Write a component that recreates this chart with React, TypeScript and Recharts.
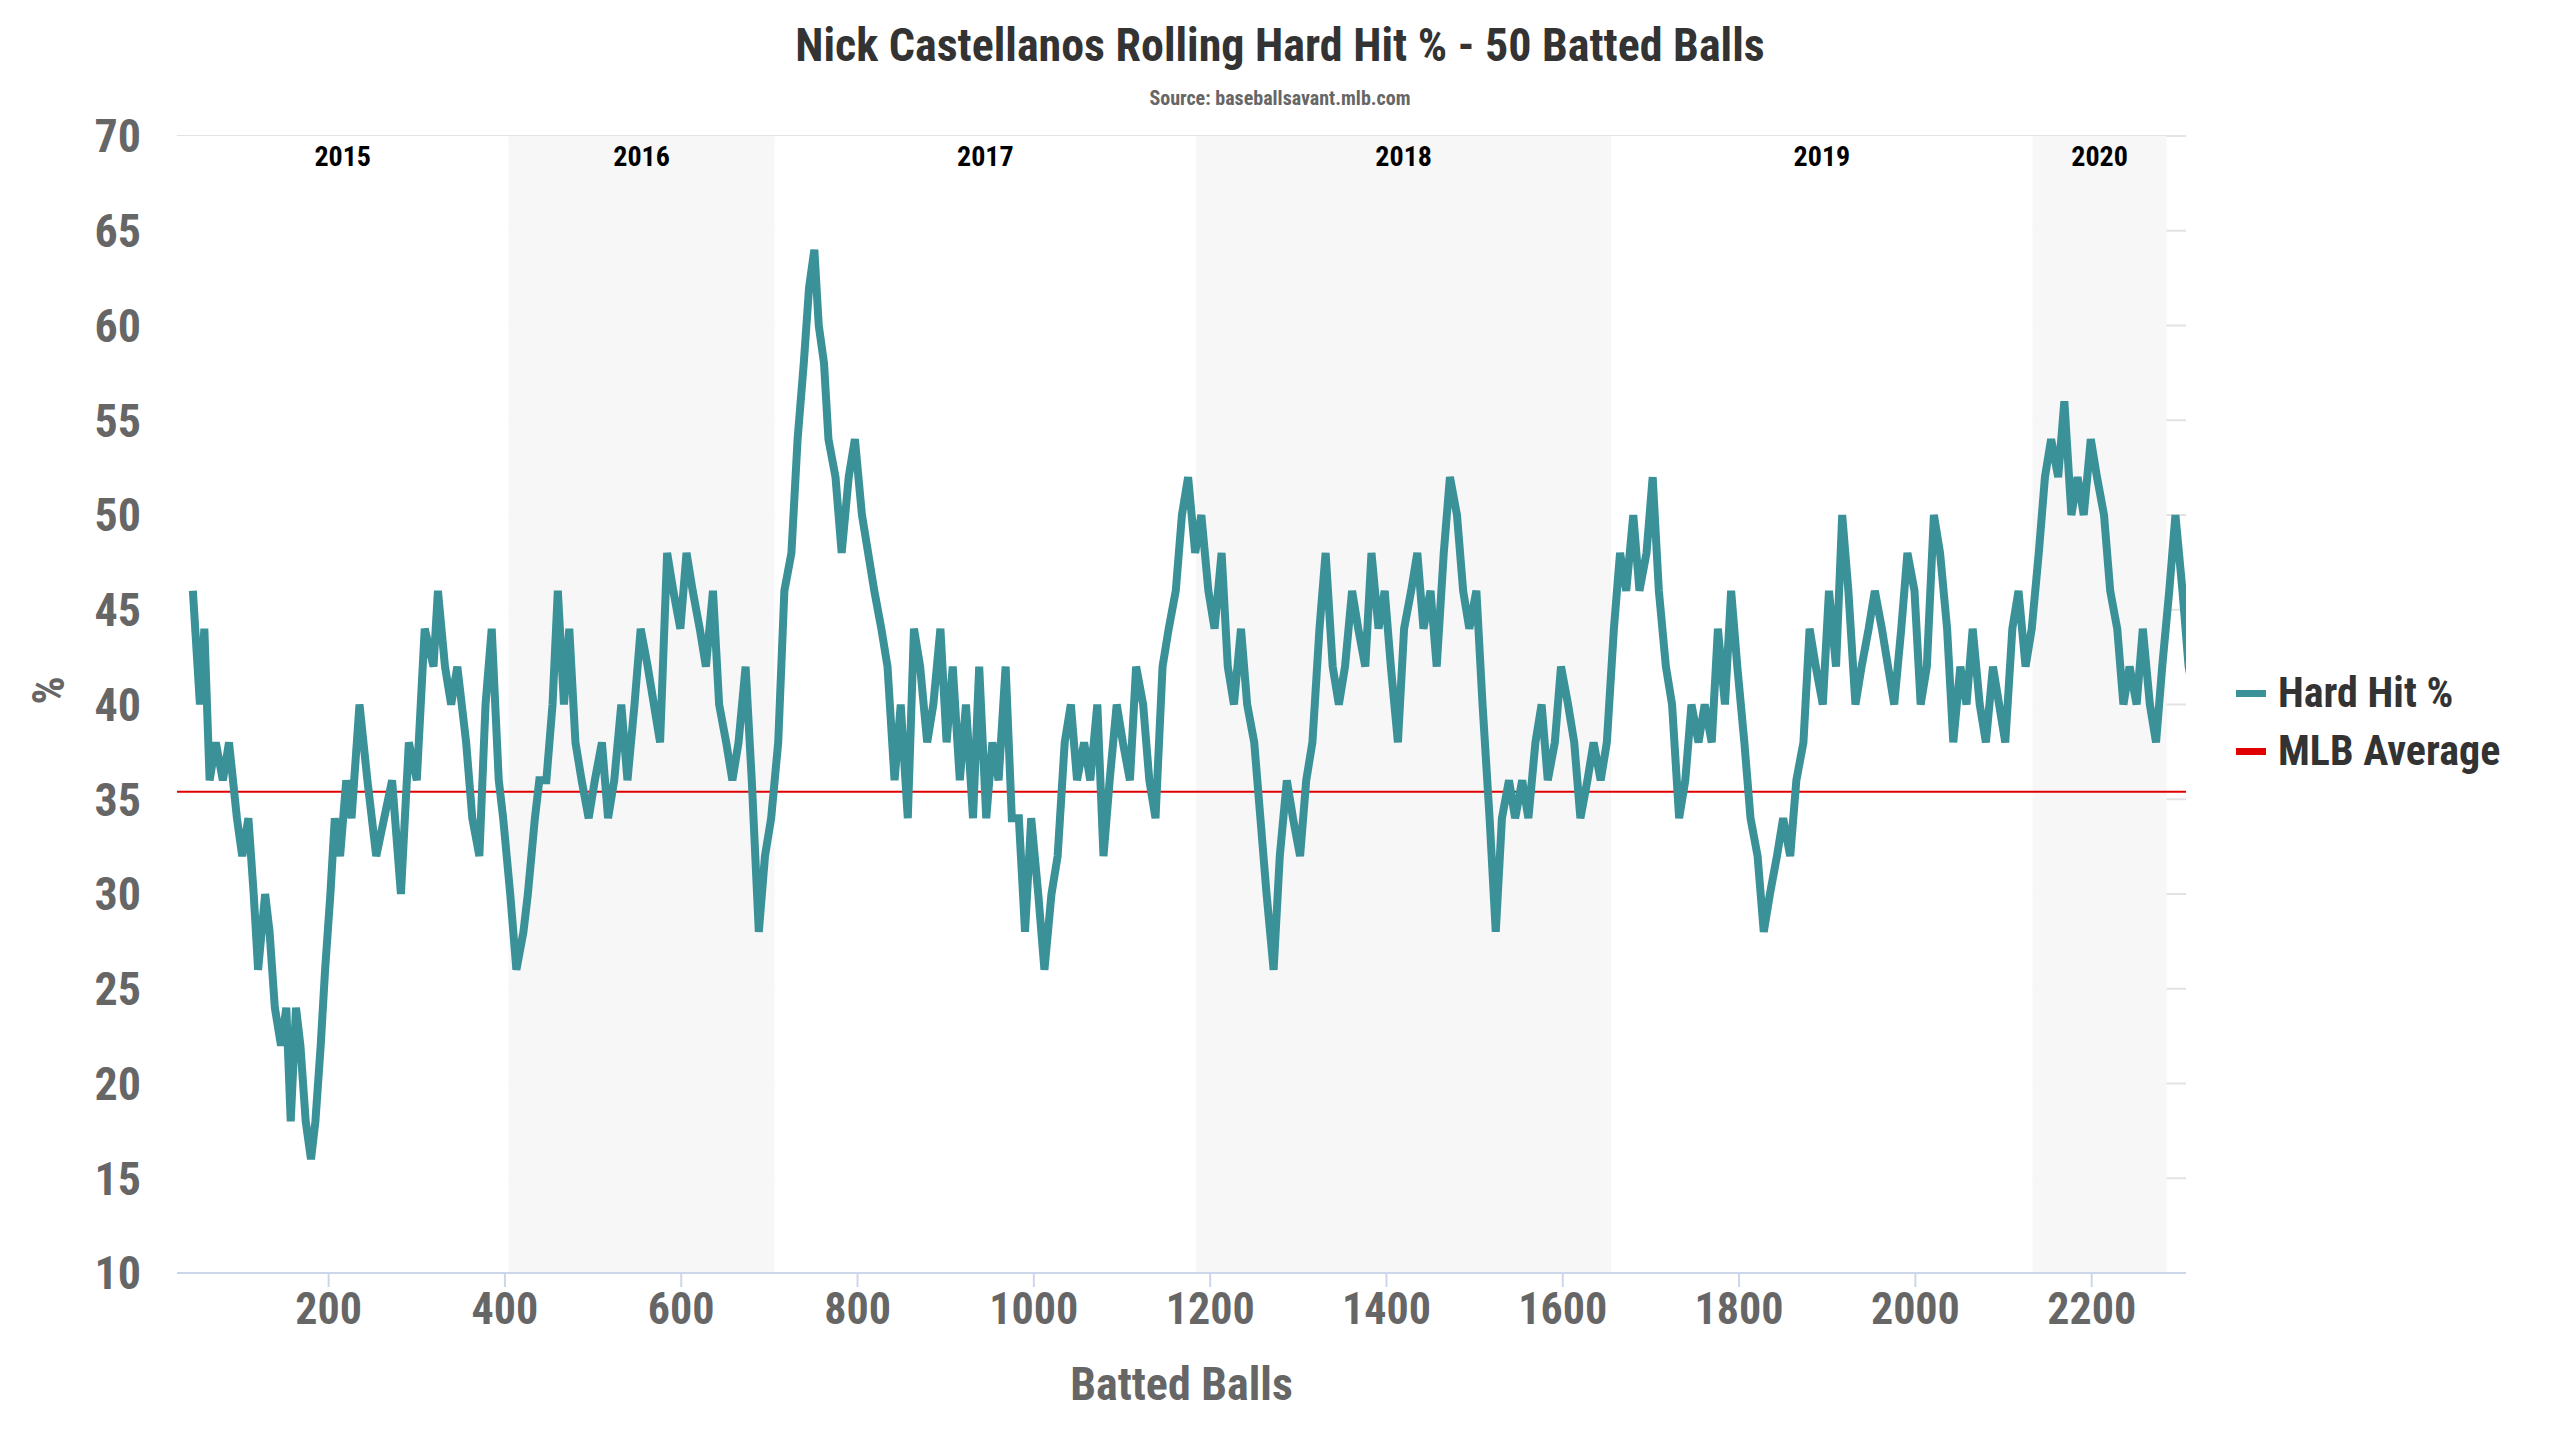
import React from 'react';
import { LineChart, Line, XAxis, YAxis, CartesianGrid, ReferenceArea, ReferenceLine } from 'recharts';

// batted-ball index and rolling hard hit % (early part, irregular spacing)
const earlyBalls = [46, 54, 59, 65, 72, 80, 87, 96, 102, 109, 115, 120, 128, 133, 139, 146, 152, 157, 163, 168, 174, 180, 185, 191, 196, 202, 207, 213, 220, 226, 235, 244, 254, 263, 272, 282, 291, 300, 309, 319, 324, 332, 339, 346, 356, 363, 371, 378, 385, 393, 398, 406, 413, 421, 426, 434, 439, 447, 454, 460, 467, 473, 480, 487, 495, 502, 510, 517, 524, 532, 539, 547, 554, 562, 569, 576, 584, 591, 599, 606, 613, 621, 628, 636, 643, 651, 658, 665, 673, 680, 688, 695, 702, 710, 717, 725, 732, 739, 745, 751, 756, 762, 767];
const earlyValues = [46, 40, 44, 36, 38, 36, 38, 34, 32, 34, 30, 26, 30, 28, 24, 22, 24, 18, 24, 22, 18, 16, 18, 22, 26, 30, 34, 32, 36, 34, 40, 36, 32, 34, 36, 30, 38, 36, 44, 42, 46, 42, 40, 42, 38, 34, 32, 40, 44, 36, 34, 30, 26, 28, 30, 34, 36, 36, 40, 46, 40, 44, 38, 36, 34, 36, 38, 34, 36, 40, 36, 40, 44, 42, 40, 38, 48, 46, 44, 48, 46, 44, 42, 46, 40, 38, 36, 38, 42, 36, 28, 32, 34, 38, 46, 48, 54, 58, 62, 64, 60, 58, 54];

// later part, one reading every ~7.4 batted balls starting at 775
const lateStart = 775;
const lateStep = 7.416;
const lateValues = [52, 48, 52, 54, 50, 48, 46, 44, 42, 36, 40, 34, 44, 42, 38, 40, 44, 38, 42, 36, 40, 34, 42, 34, 38, 36, 42, 34, 34, 28, 34, 30, 26, 30, 32, 38, 40, 36, 38, 36, 40, 32, 36, 40, 38, 36, 42, 40, 36, 34, 42, 44, 46, 50, 52, 48, 50, 46, 44, 48, 42, 40, 44, 40, 38, 34, 30, 26, 32, 36, 34, 32, 36, 38, 44, 48, 42, 40, 42, 46, 44, 42, 48, 44, 46, 42, 38, 44, 46, 48, 44, 46, 42, 48, 52, 50, 46, 44, 46, 40, 34, 28, 34, 36, 34, 36, 34, 38, 40, 36, 38, 42, 40, 38, 34, 36, 38, 36, 38, 44, 48, 46, 50, 46, 48, 52, 46, 42, 40, 34, 36, 40, 38, 40, 38, 44, 40, 46, 42, 38, 34, 32, 28, 30, 32, 34, 32, 36, 38, 44, 42, 40, 46, 42, 50, 46, 40, 42, 44, 46, 44, 42, 40, 44, 48, 46, 40, 42, 50, 48, 44, 38, 42, 40, 44, 40, 38, 42, 40, 38, 44, 46, 42, 44, 48, 52, 54, 52, 56, 50, 52, 50, 54, 52, 50, 46, 44, 40, 42, 40, 44, 40, 38, 42, 46, 50, 46, 42, 40];

const yearLabels = ['2015', '2016', '2017', '2018', '2019', '2020'];
const yearBounds = [28, 404, 706, 1184, 1655, 2133, 2285];
const xTicks = [200, 400, 600, 800, 1000, 1200, 1400, 1600, 1800, 2000, 2200];
const yTicks = [10, 15, 20, 25, 30, 35, 40, 45, 50, 55, 60, 65, 70];
const mlbAverage = 35.4;

const data = [
  ...earlyBalls.map((b, i) => ({ balls: b, hardHit: earlyValues[i] })),
  ...lateValues.map((v, i) => ({ balls: Math.round(lateStart + lateStep * i), hardHit: v })),
];

const FONT = '"Roboto Condensed", "Liberation Sans Narrow", "Roboto", sans-serif';
const TEAL = '#3a9198';

const legendItems = [{ name: 'Hard Hit %', c: TEAL }, { name: 'MLB Average', c: '#e00000' }];

export default function App() {
  return (
    <div style={{ position: 'absolute', left: 0, top: 0, width: 2560, height: 1440, background: '#fff', fontFamily: FONT }}>
      <div style={{ position: 'absolute', top: 18, width: 2560, textAlign: 'center', fontSize: 46, fontWeight: 700, color: '#333' }}>
        Nick Castellanos Rolling Hard Hit % - 50 Batted Balls
      </div>
      <div style={{ position: 'absolute', top: 86, width: 2560, textAlign: 'center', fontSize: 20, fontWeight: 700, color: '#666' }}>
        Source: baseballsavant.mlb.com
      </div>
      <div style={{ position: 'absolute', left: 2236, top: 664, fontWeight: 700, fontSize: 42, color: '#333', lineHeight: '58px' }}>
        {legendItems.map((it) => (
          <div key={it.name} style={{ display: 'flex', alignItems: 'center' }}>
            <span style={{ display: 'inline-block', width: 30, height: 7, background: it.c, marginRight: 12 }} />
            {it.name}
          </div>
        ))}
      </div>
      <LineChart width={2560} height={1440} data={data} margin={{ top: 136, right: 374, bottom: 0, left: 0 }}>
        {yearLabels.map((y, i) => (
          <ReferenceArea
            key={y}
            x1={yearBounds[i]}
            x2={yearBounds[i + 1]}
            fill={i % 2 === 1 ? '#f7f7f7' : '#ffffff'}
            fillOpacity={1}
            ifOverflow="visible"
            label={{ value: y, position: 'insideTop', offset: 10, fill: '#000', fontSize: 28, fontWeight: 700, fontFamily: FONT }}
          />
        ))}
        <CartesianGrid vertical={false} stroke="#e3e3e3" strokeWidth={2} />
        <XAxis
          dataKey="balls"
          type="number"
          domain={[28, 2307]}
          ticks={xTicks}
          allowDataOverflow
          height={167}
          stroke="#ccd6eb"
          strokeWidth={2}
          tickSize={14}
          tick={{ fill: '#666', fontSize: 44, fontWeight: 700, fontFamily: FONT }}
          tickMargin={6}
          label={{ value: 'Batted Balls', position: 'insideBottom', offset: 40, fill: '#666', fontSize: 46, fontWeight: 700, fontFamily: FONT }}
        />
        <YAxis
          domain={[10, 70]}
          ticks={yTicks}
          width={177}
          axisLine={false}
          tickLine={false}
          tickMargin={30}
          tick={{ fill: '#666', fontSize: 46, fontWeight: 700, fontFamily: FONT }}
          label={{ value: '%', angle: -90, position: 'insideLeft', offset: 48, fill: '#666', fontSize: 44, fontWeight: 700, fontFamily: FONT }}
        />
        <ReferenceLine y={mlbAverage} stroke="#e00000" strokeWidth={2} />
        <Line type="linear" dataKey="hardHit" stroke={TEAL} strokeWidth={8} dot={false} isAnimationActive={false} />
      </LineChart>
    </div>
  );
}
